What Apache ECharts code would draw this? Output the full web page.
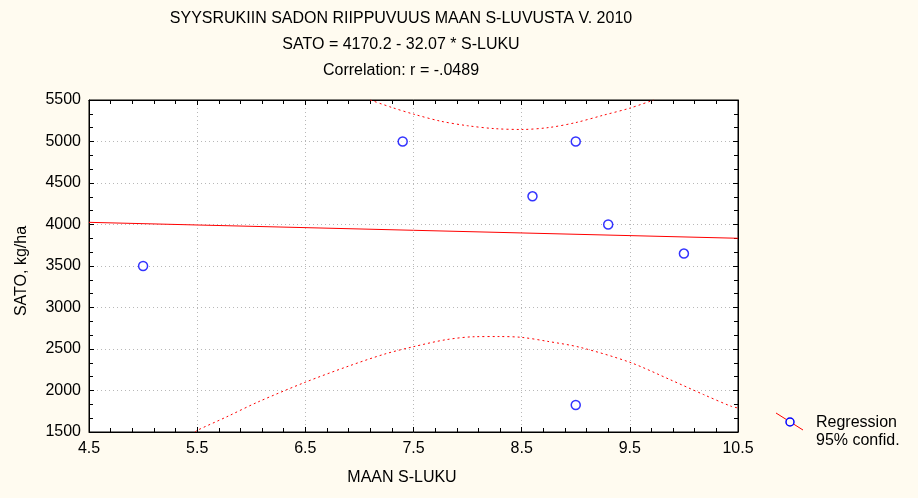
<!DOCTYPE html>
<html>
<head>
<meta charset="utf-8">
<script src="https://cdn.jsdelivr.net/npm/echarts@6/dist/echarts.min.js"></script>
<style>
html,body{margin:0;padding:0;background:#FFFBF0;}
#chart{width:918px;height:498px;}
</style>
</head>
<body>
<div id="chart"></div>
<script>
// ---- Data ----
const titleLines = [
  'SYYSRUKIIN SADON RIIPPUVUUS MAAN S-LUVUSTA V. 2010',
  'SATO = 4170.2 - 32.07 * S-LUKU',
  'Correlation: r = -.0489'
];
const xAxisName = 'MAAN S-LUKU';
const yAxisName = 'SATO, kg/ha';
const legendLabels = ['Regression', '95% confid.'];

const obsX = [5, 7.4, 8.6, 9, 9, 9.3, 10];
const obsY = [3500, 5000, 4340, 5000, 1825, 4000, 3650];

const regX = [4.5, 10.5];
const regY = [4026, 3834];

const upperX = [7.1, 7.3, 7.5, 7.75, 8.0, 8.25, 8.5, 8.75, 9.0, 9.25, 9.5, 9.72];
const upperY = [5500, 5410, 5330, 5245, 5190, 5155, 5145, 5168, 5228, 5315, 5402, 5500];

const lowerX = [5.48, 5.5, 5.775, 6.066, 6.5, 6.896, 7.236, 7.5, 7.8, 8.066, 8.29, 8.5, 8.74, 9.04, 9.5, 9.877, 10.18, 10.44, 10.5];
const lowerY = [1500, 1520, 1684, 1864, 2100, 2292, 2440, 2528, 2612, 2648, 2650, 2640, 2592, 2520, 2340, 2128, 1952, 1808, 1790];

const xMin = 4.5, xMax = 10.5, xStep = 1;
const yMin = 1500, yMax = 5500, yStep = 500;

// ---- Build chart ----
const zip = (a, b) => a.map((v, i) => [v, b[i]]);
const FONT = 'Liberation Sans, Arial, sans-serif';
const chart = echarts.init(document.getElementById('chart'));

const tickStyle = { show: true, inside: true, length: 5, lineStyle: { color: '#000', width: 1 } };
const minorStyle = (n) => ({ show: true, splitNumber: n, length: 4, lineStyle: { color: '#000', width: 1 } });
const gridLine = { show: true, lineStyle: { color: '#b8b8b8', type: [1, 3], width: 1 } };

chart.setOption({
  backgroundColor: '#FFFBF0',
  animation: false,
  grid: { left: 89, top: 100, right: 180, bottom: 66, show: true, backgroundColor: '#ffffff', borderColor: '#000', borderWidth: 1 },
  xAxis: [
    {
      type: 'value', min: xMin, max: xMax, interval: xStep, position: 'bottom',
      axisLine: { show: true, onZero: false, lineStyle: { color: '#000', width: 1 } },
      axisTick: tickStyle, minorTick: minorStyle(5),
      splitLine: gridLine,
      axisLabel: { color: '#000', fontFamily: FONT, fontSize: 16, margin: 9, formatter: v => v.toFixed(1) }
    },
    {
      type: 'value', min: xMin, max: xMax, interval: xStep, position: 'top',
      axisLine: { show: true, onZero: false, lineStyle: { color: '#000', width: 1 } },
      axisTick: tickStyle, minorTick: minorStyle(5),
      splitLine: { show: false }, axisLabel: { show: false }
    }
  ],
  yAxis: [
    {
      type: 'value', min: yMin, max: yMax, interval: yStep, position: 'left',
      axisLine: { show: true, onZero: false, lineStyle: { color: '#000', width: 1 } },
      axisTick: tickStyle, minorTick: minorStyle(3),
      splitLine: gridLine,
      axisLabel: { color: '#000', fontFamily: FONT, fontSize: 16, margin: 8, formatter: v => String(v) }
    },
    {
      type: 'value', min: yMin, max: yMax, interval: yStep, position: 'right',
      axisLine: { show: true, onZero: false, lineStyle: { color: '#000', width: 1 } },
      axisTick: tickStyle, minorTick: minorStyle(3),
      splitLine: { show: false }, axisLabel: { show: false }
    }
  ],
  series: [
    {
      type: 'line', data: zip(regX, regY), showSymbol: false, symbol: 'none',
      lineStyle: { color: '#ff0000', width: 1 }, clip: true, z: 3
    },
    {
      type: 'line', data: zip(upperX, upperY), showSymbol: false, symbol: 'none', smooth: 0.3,
      lineStyle: { color: '#ff0000', width: 1, type: [2, 3] }, clip: true, z: 3
    },
    {
      type: 'line', data: zip(lowerX, lowerY), showSymbol: false, symbol: 'none', smooth: 0.3,
      lineStyle: { color: '#ff0000', width: 1, type: [2, 3] }, clip: true, z: 3
    },
    {
      type: 'scatter', data: zip(obsX, obsY), symbol: 'circle', symbolSize: 9,
      itemStyle: { color: '#ffffff', borderColor: '#0000ff', borderWidth: 1.5 }, z: 4
    }
  ],
  graphic: [
    { type: 'text', x: 401, y: 19, style: { text: titleLines[0], fill: '#000', font: '16px ' + FONT, textAlign: 'center', textVerticalAlign: 'middle' } },
    { type: 'text', x: 401, y: 45, style: { text: titleLines[1], fill: '#000', font: '16px ' + FONT, textAlign: 'center', textVerticalAlign: 'middle' } },
    { type: 'text', x: 401, y: 71, style: { text: titleLines[2], fill: '#000', font: '16px ' + FONT, textAlign: 'center', textVerticalAlign: 'middle' } },
    { type: 'text', x: 402, y: 478, style: { text: xAxisName, fill: '#000', font: '16px ' + FONT, textAlign: 'center', textVerticalAlign: 'middle' } },
    { type: 'text', x: 22, y: 271, rotation: Math.PI / 2, style: { text: yAxisName, fill: '#000', font: '16px ' + FONT, textAlign: 'center', textVerticalAlign: 'middle' } },
    { type: 'line', shape: { x1: 776, y1: 413, x2: 803, y2: 430 }, style: { stroke: '#ff0000', lineWidth: 1 } },
    { type: 'circle', shape: { cx: 790, cy: 422, r: 4 }, style: { fill: '#FFFBF0', stroke: '#0000ff', lineWidth: 1.5 } },
    { type: 'text', x: 816, y: 423, style: { text: legendLabels[0], fill: '#000', font: '16px ' + FONT, textAlign: 'left', textVerticalAlign: 'middle' } },
    { type: 'text', x: 816, y: 441, style: { text: legendLabels[1], fill: '#000', font: '16px ' + FONT, textAlign: 'left', textVerticalAlign: 'middle' } }
  ]
});
</script>
</body>
</html>
